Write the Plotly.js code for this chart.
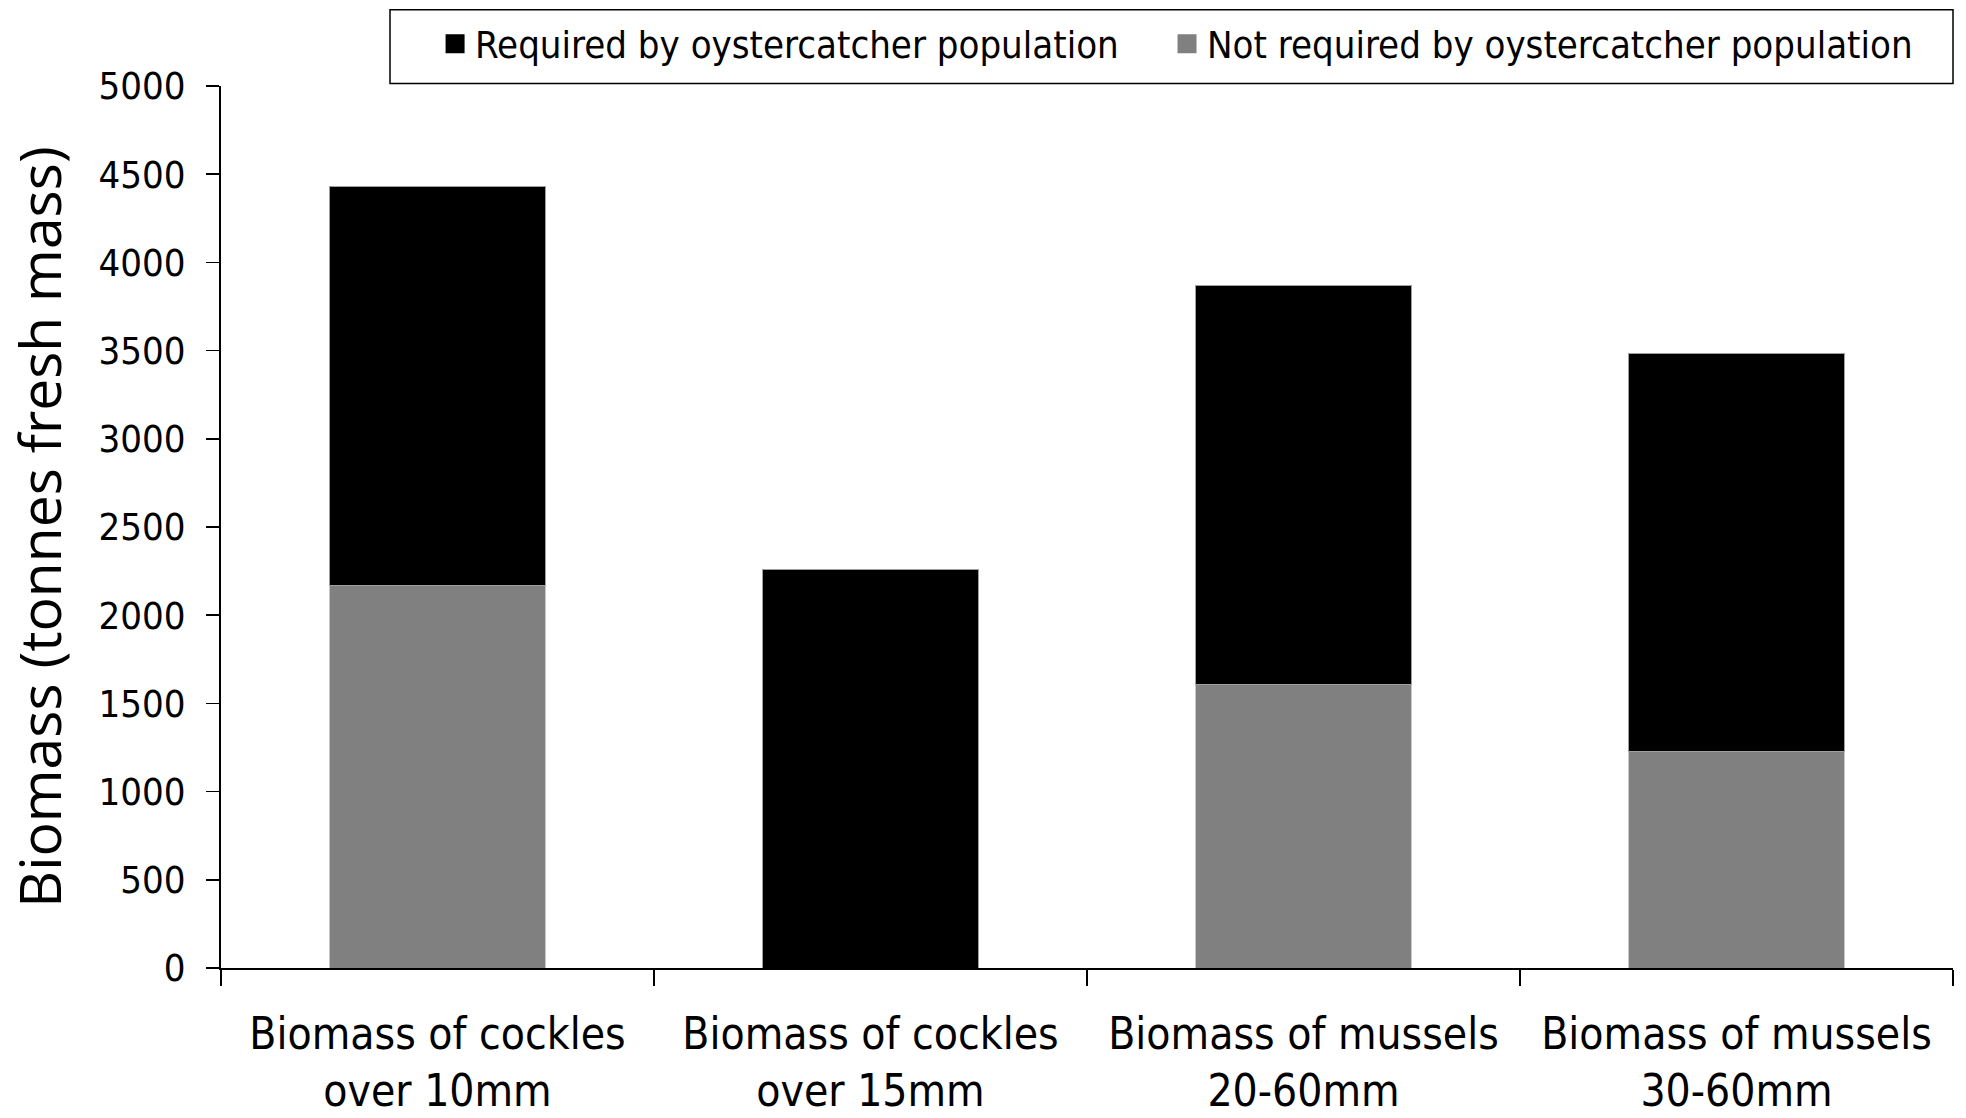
<!DOCTYPE html>
<html><head><meta charset="utf-8">
<script src="https://cdn.plot.ly/plotly-3.0.1.min.js"></script>
<style>body{margin:0;background:#fff}#chart{width:1966px;height:1118px}</style>
</head><body><div id="chart"></div>
<script>
const categories = ["Biomass of cockles<br>over 10mm", "Biomass of cockles<br>over 15mm", "Biomass of mussels<br>20-60mm", "Biomass of mussels<br>30-60mm"];
const notRequired = [2170, 0, 1605, 1228];
const required = [2260, 2258, 2262, 2258];
const yTicks = [0, 500, 1000, 1500, 2000, 2500, 3000, 3500, 4000, 4500, 5000];
const seriesNames = ['Required by oystercatcher population', 'Not required by oystercatcher population'];
const seriesColors = ['#000000', '#808080'];

const FONT = '"Liberation Sans Narrow", "DejaVu Sans Condensed", sans-serif';

const traces = [
  {type: 'bar', name: seriesNames[1], x: categories, y: notRequired, showlegend: false,
   marker: {color: seriesColors[1], line: {color: '#c8c8c8', width: 1}}},
  {type: 'bar', name: seriesNames[0], x: categories, y: required, showlegend: false,
   marker: {color: seriesColors[0], line: {color: '#a0a0a0', width: 1}}},
  // legend-only entries (larger square symbols), no visible points
  {type: 'scatter', mode: 'markers', name: seriesNames[0], x: [categories[0]], y: [null], showlegend: true, legend: 'legend',
   marker: {symbol: 'square', size: 16, color: seriesColors[0], line: {color: seriesColors[0], width: 3}}},
  {type: 'scatter', mode: 'markers', name: seriesNames[1], x: [categories[0]], y: [null], showlegend: true, legend: 'legend2',
   marker: {symbol: 'square', size: 16, color: seriesColors[1], line: {color: seriesColors[1], width: 3}}}
];

const legendBase = {orientation: 'h', xanchor: 'left', y: 1.0477, yanchor: 'middle', borderwidth: 0,
                    font: {family: FONT, size: 38}, bgcolor: 'rgba(0,0,0,0)', itemsizing: 'trace'};

const layout = {
  width: 1966, height: 1118,
  margin: {l: 221, r: 13, t: 84, b: 150},
  paper_bgcolor: '#fff', plot_bgcolor: '#fff',
  barmode: 'stack', bargap: 0.5,
  font: {family: FONT, color: '#000', size: 38},
  showlegend: true,
  legend: Object.assign({}, legendBase, {x: 0.1236}),
  legend2: Object.assign({}, legendBase, {x: 0.5462}),
  shapes: [{type: 'rect', xref: 'paper', yref: 'paper', x0: (390 - 221) / 1732, x1: (1953 - 221) / 1732,
            y0: (968 - 81.5) / 884, y1: (968 - 7.5) / 884, line: {color: '#000', width: 1.5}, fillcolor: 'rgba(0,0,0,0)', layer: 'above'}],
  xaxis: {type: 'category', showline: true, linecolor: '#000', linewidth: 2, ticks: 'outside', tickson: 'boundaries',
          ticklen: 16, tickwidth: 1.5, tickcolor: '#000', showgrid: false, zeroline: false,
          tickfont: {family: FONT, size: 44}, ticklabelstandoff: 26, automargin: false},
  yaxis: {range: [0, 5000], tickvals: yTicks, ticktext: yTicks.map(String), showline: true, linecolor: '#000', linewidth: 2,
          ticks: 'outside', ticklen: 13, tickwidth: 1.5, tickcolor: '#000', showgrid: false, zeroline: false,
          tickfont: {family: FONT, size: 38}, ticklabelstandoff: 13, automargin: false,
          title: {text: 'Biomass (tonnes fresh mass)', font: {family: '"Open Sans", sans-serif', size: 57}, standoff: 18}}
};

Plotly.newPlot('chart', traces, layout, {displayModeBar: false, staticPlot: true});
</script></body></html>
